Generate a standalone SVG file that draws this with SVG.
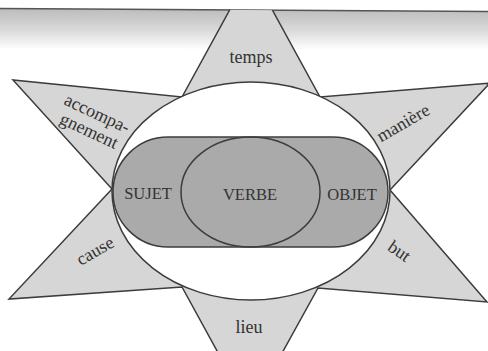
<svg xmlns="http://www.w3.org/2000/svg" width="488" height="351" viewBox="0 0 488 351">
<defs>
<linearGradient id="band" x1="0" y1="0" x2="0" y2="1">
<stop offset="0" stop-color="#bcbcbc"/>
<stop offset="0.5" stop-color="#d8d8d8"/>
<stop offset="1" stop-color="#ffffff"/>
</linearGradient>
<clipPath id="below"><polygon points="0,8.5 488,11.5 488,351 0,351"/></clipPath>
</defs>
<style>
.ln{stroke:#3c3c3c;stroke-width:1.5;stroke-linejoin:miter}
.star{fill:#d6d6d6}
.core{fill:#aaaaaa}
.lbl{font-family:"Liberation Serif",serif;font-size:18px;fill:#333333}
.cap{font-family:"Liberation Serif",serif;font-size:16.5px;fill:#333333;text-anchor:middle}
.mid{text-anchor:middle}
</style>
<rect width="488" height="351" fill="#ffffff"/>
<g id="band-top">
<polygon points="0,8.5 488,11.5 488,50 0,48" fill="url(#band)"/>
<line x1="0" y1="8.5" x2="488" y2="11.5" stroke="#555555" stroke-width="1.5"/>
</g>
<g id="star" clip-path="url(#below)">
<polygon class="star ln" points="251,-29 320,97 490,83 390,190 487,302 318,288 250,411 182,287 9,299 112,189 13,80 182,97"/>
</g>
<g id="ellipse-outer">
<ellipse class="ln" cx="251" cy="191" rx="139" ry="109" fill="#ffffff"/>
</g>
<g id="stadium">
<rect class="core ln" x="113" y="137" width="275" height="110" rx="55" ry="55"/>
</g>
<g id="verbe">
<ellipse class="ln" cx="250.5" cy="192" rx="69.5" ry="55" fill="none"/>
<text class="cap" x="250" y="200">VERBE</text>
</g>
<g id="sujet"><text class="cap" x="148" y="199">SUJET</text></g>
<g id="objet"><text class="cap" x="352" y="200">OBJET</text></g>
<g id="temps"><text class="lbl mid" x="251" y="63">temps</text></g>
<g id="lieu"><text class="lbl mid" x="249" y="333">lieu</text></g>
<g id="maniere"><text class="lbl mid" transform="translate(406,128) rotate(-30)">manière</text></g>
<g id="cause"><text class="lbl mid" transform="translate(98,256) rotate(-30)">cause</text></g>
<g id="but"><text class="lbl mid" transform="translate(396,256) rotate(35)">but</text></g>
<g id="accompagnement" transform="translate(63,104) rotate(25)">
<text class="lbl" x="0" y="0">accompa-</text>
<text class="lbl" x="4" y="19">gnement</text>
</g>
</svg>
